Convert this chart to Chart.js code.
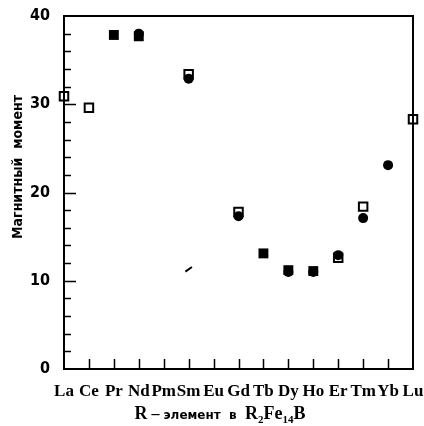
<!DOCTYPE html>
<html>
<head>
<meta charset="utf-8">
<script src="https://cdn.jsdelivr.net/npm/chart.js@4.4.0/dist/chart.umd.min.js"></script>
<style>
  html, body { margin: 0; background: #fff; }
</style>
</head>
<body>
<canvas id="c" width="424" height="426"></canvas>
<script>
// Магнитный момент R2Fe14B по редкоземельным элементам.
// Значения идут по ELEMENTS; null — точки для этого элемента нет.
const ELEMENTS  = ["La", "Ce", "Pr", "Nd", "Pm", "Sm", "Eu", "Gd", "Tb", "Dy", "Ho", "Er", "Tm", "Yb", "Lu"];
const OPEN_SQ   = [30.9, 29.6, null, null, null, 33.4, null, 17.8, null, null, null, 12.6, 18.4, null, 28.3];
const FILL_CIRC = [null, null, null, 38.0, null, 32.9, null, 17.3, null, 11.0, 11.0, 12.9, 17.1, 23.1, null];
const FILL_SQ   = [null, null, 37.85, 37.7, null, null, null, null, 13.1, 11.2, 11.1, null, null, null, null];
const STRAY     = [null, null, null, null, null, 11.3, null, null, null, null, null, null, null, null, null];
const Y_MIN = 0, Y_MAX = 40, Y_STEP = 10, Y_MINOR = 2;

const SERIF = "'Liberation Serif', 'DejaVu Serif', serif";
const COND  = "'Liberation Sans Narrow', 'DejaVu Sans Condensed', sans-serif";
const SANS  = "'DejaVu Sans', sans-serif";

function pts(arr) {
  const out = [];
  arr.forEach((v, i) => { if (v != null) out.push({ x: i, y: v }); });
  return out;
}

// рамка, внутренние засечки и подписи осей (подстрочные индексы Chart.js не умеет)
const frame = {
  id: "frame",
  beforeDatasetsDraw(chart) {
    const { ctx, chartArea: a, scales: { x, y } } = chart;
    ctx.save();
    ctx.strokeStyle = "#000";
    ctx.lineWidth = 2;
    ctx.strokeRect(a.left, a.top, a.right - a.left, a.bottom - a.top);
    ctx.lineWidth = 1.5;
    ctx.beginPath();
    for (let v = Y_MIN + Y_MINOR; v < Y_MAX; v += Y_MINOR) {
      const py = Math.round(y.getPixelForValue(v)) + 0.5;
      const len = v % Y_STEP === 0 ? 12 : 7;
      ctx.moveTo(a.left, py);
      ctx.lineTo(a.left + len, py);
    }
    for (let i = 1; i < ELEMENTS.length - 1; i++) {
      const px = Math.round(x.getPixelForValue(i)) + 0.5;
      ctx.moveTo(px, a.bottom);
      ctx.lineTo(px, a.bottom - 10);
    }
    ctx.stroke();
    ctx.restore();
  },
  afterDraw(chart) {
    const ctx = chart.ctx;
    ctx.save();
    ctx.fillStyle = "#000";

    // ось Y
    ctx.translate(18, 167);
    ctx.rotate(-Math.PI / 2);
    ctx.font = "bold 14px " + COND;
    ctx.textAlign = "center";
    ctx.textBaseline = "middle";
    ctx.fillText("Магнитный  момент", 0, 0);
    ctx.setTransform(1, 0, 0, 1, 0, 0);

    // ось X: R – элемент в R2Fe14B
    const parts = [
      ["R", "bold 18px " + SERIF, 0],
      [" – ", "bold 16px " + SERIF, 0],
      ["элемент  в  ", "bold 12px " + SANS, 0],
      ["R", "bold 18px " + SERIF, 0],
      ["2", "bold 11px " + SERIF, 4],
      ["Fe", "bold 18px " + SERIF, 0],
      ["14", "bold 11px " + SERIF, 4],
      ["B", "bold 18px " + SERIF, 0],
    ];
    let total = 0;
    for (const p of parts) { ctx.font = p[1]; total += ctx.measureText(p[0]).width; }
    let cx = 220 - total / 2;
    const base = 419;
    ctx.textAlign = "left";
    ctx.textBaseline = "alphabetic";
    for (const p of parts) {
      ctx.font = p[1];
      ctx.fillText(p[0], cx, base + p[2]);
      cx += ctx.measureText(p[0]).width;
    }
    ctx.restore();
  },
};

new Chart(document.getElementById("c"), {
  type: "scatter",
  data: {
    datasets: [
      {
        label: "filled circles",
        data: pts(FILL_CIRC),
        pointStyle: "circle",
        pointRadius: 5,
        backgroundColor: "#000",
        borderColor: "#000",
        borderWidth: 0,
        order: 1,
        clip: false,
      },
      {
        label: "filled squares",
        data: pts(FILL_SQ),
        pointStyle: "rect",
        pointRadius: 7,
        backgroundColor: "#000",
        borderColor: "#000",
        borderWidth: 0,
        order: 2,
        clip: false,
      },
      {
        label: "open squares",
        data: pts(OPEN_SQ),
        pointStyle: "rect",
        pointRadius: 6,
        backgroundColor: "rgba(0,0,0,0)",
        borderColor: "#000",
        borderWidth: 2,
        order: 3,
        clip: false,
      },
      {
        label: "stray",
        data: pts(STRAY),
        pointStyle: "line",
        pointRadius: 4,
        rotation: -35,
        borderColor: "#000",
        borderWidth: 2,
        order: 4,
        clip: false,
      },
    ],
  },
  options: {
    responsive: false,
    animation: false,
    events: [],
    layout: { padding: { top: 16, right: 11, left: 0, bottom: 0 } },
    plugins: { legend: { display: false }, tooltip: { enabled: false } },
    scales: {
      x: {
        type: "linear",
        min: 0,
        max: ELEMENTS.length - 1,
        grid: { display: false, drawTicks: false },
        border: { display: false },
        ticks: {
          stepSize: 1,
          autoSkip: false,
          maxRotation: 0,
          padding: 12,
          color: "#000",
          font: { family: SERIF, size: 17, weight: "bold" },
          callback: v => ELEMENTS[v],
        },
        afterFit(s) { s.height = 57; s.paddingLeft = 0; s.paddingRight = 0; },
      },
      y: {
        min: Y_MIN,
        max: Y_MAX,
        grid: { display: false, drawTicks: false },
        border: { display: false },
        ticks: {
          stepSize: Y_STEP,
          padding: 14,
          color: "#000",
          font: { family: COND, size: 16, weight: "bold" },
        },
        afterFit(s) { s.width = 64; s.paddingTop = 0; s.paddingBottom = 0; },
      },
    },
  },
  plugins: [frame],
});
</script>
</body>
</html>
